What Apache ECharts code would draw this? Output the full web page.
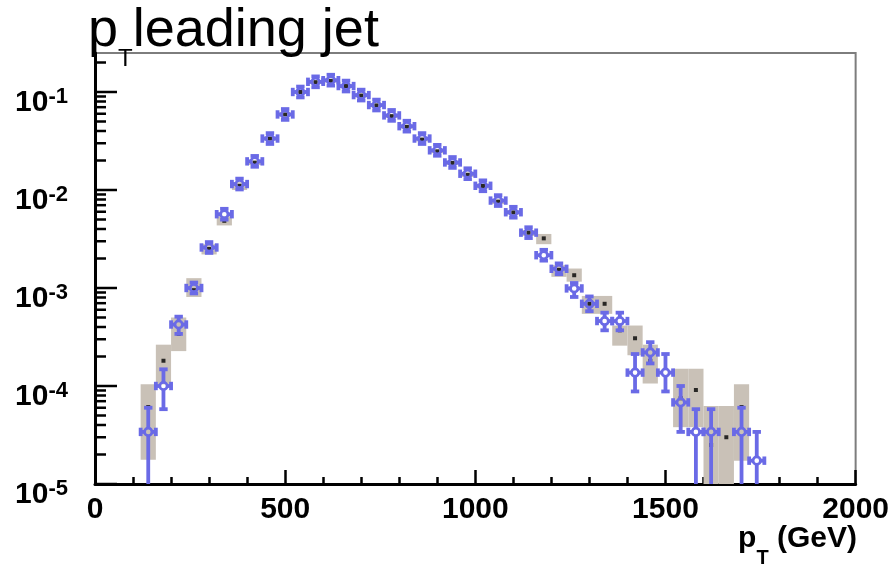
<!DOCTYPE html>
<html><head><meta charset="utf-8">
<script src="https://cdn.jsdelivr.net/npm/echarts@6/dist/echarts.min.js"></script>
<style>html,body{margin:0;padding:0;background:#fff}#c{width:892px;height:566px}</style>
</head><body><div id="c"></div>
<script>
// ---- data ----
const binCenters = [140,180,220,260,300,340,380,420,460,500,540,580,620,660,700,740,780,820,860,900,940,980,1020,1060,1100,1140,1180,1220,1260,1300,1340,1380,1420,1460,1500,1540,1580,1620,1660,1700,1740];
const binHalfWidth = 20;
// black points with grey systematic boxes
const blackValues = [6.1e-5,1.81e-4,3.4e-4,9.5e-4,2.5e-3,4.85e-3,1.1e-2,1.9e-2,3.35e-2,5.9e-2,0.1,0.126,0.13,0.115,0.092,0.073,0.0567,0.0442,0.0327,0.0248,0.0189,0.0143,0.011,0.0076,0.0059,0.00367,0.00321,0.00153,0.00135,6.9e-4,6.9e-4,3.7e-4,3.07e-4,1.8e-4,null,7.5e-5,9.1e-5,2.5e-5,3.0e-5,6.1e-5,null];
const sysLow = [1.77e-5,1.04e-4,2.27e-4,8.1e-4,2.2e-3,4.35e-3,1.0e-2,1.8e-2,3.2e-2,5.65e-2,0.096,0.121,0.125,0.11,0.088,0.07,0.0543,0.0423,0.0313,0.0237,0.018,0.0136,0.0104,0.0072,0.0056,0.0034,0.0028,0.0013,0.00116,5.45e-4,5.45e-4,2.58e-4,2.06e-4,1.06e-4,null,3.8e-5,3.8e-5,1e-7,1e-7,1.73e-5,null];
const sysHigh = [1.04e-4,2.64e-4,5.0e-4,1.26e-3,2.8e-3,5.4e-3,1.2e-2,2.0e-2,3.5e-2,6.15e-2,0.104,0.131,0.135,0.12,0.096,0.076,0.0591,0.0461,0.0341,0.0259,0.0198,0.015,0.0116,0.008,0.0062,0.0039,0.00356,0.00171,0.00158,8.3e-4,8.3e-4,4.14e-4,4.14e-4,2.64e-4,null,1.5e-4,1.5e-4,6.26e-5,6.26e-5,1.04e-4,null];
// blue open-circle points with statistical error bars
const blueValues = [3.4e-5,1.0e-4,4.24e-4,1.0e-3,2.59e-3,5.66e-3,1.15e-2,1.96e-2,3.35e-2,5.9e-2,0.1,0.127,0.132,0.115,0.093,0.0736,0.0577,0.0448,0.0335,0.0254,0.0191,0.01466,0.01104,0.0078,0.00593,0.00367,0.00216,0.00157,9.9e-4,6.9e-4,4.6e-4,4.6e-4,1.37e-4,2.2e-4,1.37e-4,6.8e-5,3.4e-5,3.4e-5,null,3.4e-5,1.73e-5];
const blueErrLow = [1e-7,5.8e-5,3.4e-4,9.0e-4,2.45e-3,5.4e-3,1.11e-2,1.9e-2,3.27e-2,5.8e-2,0.099,0.125,0.13,0.113,0.091,0.072,0.0565,0.0438,0.0326,0.0246,0.0184,0.014,0.0105,0.0074,0.0056,0.0034,0.00205,0.00149,8.1e-4,5.8e-4,3.7e-4,3.7e-4,8.8e-5,1.7e-4,8.8e-5,3.4e-5,1e-7,1e-7,null,1e-7,1e-7];
const blueErrHigh = [6.0e-5,1.48e-4,5.1e-4,1.1e-3,2.73e-3,5.9e-3,1.19e-2,2.02e-2,3.43e-2,6.0e-2,0.101,0.129,0.134,0.117,0.095,0.0752,0.0589,0.0458,0.0344,0.0262,0.0198,0.0153,0.0116,0.0082,0.0063,0.0039,0.00227,0.00165,1.1e-3,8.2e-4,5.6e-4,5.6e-4,2.12e-4,2.8e-4,2.12e-4,1.0e-4,5.8e-5,5.8e-5,null,6.0e-5,3.4e-5];
// axis tick values
const xTickLabels = ['0','500','1000','1500','2000'];
const yMajorTicks = [1e-5,1e-4,1e-3,1e-2,1e-1];
const yMinorTicks = [2e-5,3e-5,4e-5,5e-5,6e-5,7e-5,8e-5,9e-5,2e-4,3e-4,4e-4,5e-4,6e-4,7e-4,8e-4,9e-4,2e-3,3e-3,4e-3,5e-3,6e-3,7e-3,8e-3,9e-3,2e-2,3e-2,4e-2,5e-2,6e-2,7e-2,8e-2,9e-2,2e-1];

// ---- chart ----
const BLUE = '#6a6ae6';
const GREY = '#c9c1b7';
const FONT = 'Liberation Sans';

const boxData = [], blackData = [], blueData = [];
binCenters.forEach((x, i) => {
  if (sysLow[i] != null) boxData.push([x, sysLow[i], sysHigh[i]]);
  if (blackValues[i] != null) blackData.push([x, blackValues[i]]);
  if (blueValues[i] != null) blueData.push([x, blueValues[i], blueErrLow[i], blueErrHigh[i]]);
});

function tickSeries(vals, len) {
  return {
    type: 'custom', silent: true, z: 5, clip: false,
    data: vals.map(v => [0, v]),
    renderItem(params, api) {
      const p = api.coord([0, api.value(1)]);
      return { type: 'line', shape: { x1: p[0], y1: p[1], x2: p[0] + len, y2: p[1] },
               style: { stroke: '#000', lineWidth: 2.5 } };
    }
  };
}

const chart = echarts.init(document.getElementById('c'), null, { renderer: 'canvas' });
chart.setOption({
  animation: false,
  backgroundColor: '#fff',
  title: [
    { text: '{m|p}{s|T}{m|leading jet}', left: 88, top: 4, padding: 0, z: 10,
      textStyle: { fontWeight: 'normal', rich: {
        m: { fontSize: 54, fontWeight: 'normal', fontFamily: FONT, color: '#000', lineHeight: 67, verticalAlign: 'top' },
        s: { fontSize: 24, fontWeight: 'normal', fontFamily: FONT, color: '#000', lineHeight: 26, verticalAlign: 'bottom' } } } },
    { text: '{m|p}{s|T}{m| (GeV)}', right: 35, top: 524, padding: 0,
      textStyle: { rich: {
        m: { fontSize: 30, fontWeight: 'bold', fontFamily: FONT, color: '#000', lineHeight: 44, verticalAlign: 'top' },
        s: { fontSize: 20, fontWeight: 'bold', fontFamily: FONT, color: '#000', lineHeight: 20, verticalAlign: 'bottom' } } } }
  ],
  grid: { left: 95, right: 33, top: 53, bottom: 82, show: true, borderColor: '#7d7d7d', borderWidth: 2, backgroundColor: 'transparent' },
  xAxis: {
    type: 'value', min: 0, max: 2000, interval: 500,
    axisLine: { show: true, lineStyle: { color: '#000', width: 3 } },
    axisTick: { show: true, inside: true, length: 14, lineStyle: { color: '#000', width: 2.5 } },
    minorTick: { show: true, splitNumber: 5, length: 7, lineStyle: { color: '#000', width: 2.5 } },
    splitLine: { show: false },
    axisLabel: { margin: 11, fontSize: 30, fontWeight: 'bold', fontFamily: FONT, color: '#000',
      formatter: v => { const i = [0,500,1000,1500,2000].indexOf(v); return i >= 0 ? xTickLabels[i] : ''; } }
  },
  yAxis: {
    type: 'log', logBase: 10, min: 1e-5, max: 0.25,
    axisLine: { show: true, lineStyle: { color: '#000', width: 3 } },
    axisTick: { show: false },
    splitLine: { show: false },
    axisLabel: {
      margin: 27, padding: [20, 0, 0, 0],
      formatter: v => {
        const e = Math.log10(v), r = Math.round(e);
        if (Math.abs(e - r) > 1e-6) return '';
        return '{b|10}{s|' + (r < 0 ? '-' + (-r) : r) + '}';
      },
      rich: {
        b: { fontSize: 30, fontWeight: 'bold', fontFamily: FONT, color: '#000', lineHeight: 32, verticalAlign: 'bottom' },
        s: { fontSize: 22, fontWeight: 'bold', fontFamily: FONT, color: '#000', lineHeight: 18, verticalAlign: 'top' }
      }
    }
  },
  series: [
    { type: 'custom', name: 'syst', clip: true, silent: true, z: 1,
      data: boxData,
      renderItem(params, api) {
        const x = api.value(0);
        const p1 = api.coord([x - binHalfWidth, api.value(2)]);
        const p2 = api.coord([x + binHalfWidth, api.value(1)]);
        return { type: 'rect', shape: { x: p1[0], y: p1[1], width: p2[0] - p1[0], height: p2[1] - p1[1] },
                 style: { fill: GREY } };
      } },
    { type: 'scatter', name: 'black', z: 2, silent: true, symbol: 'rect', symbolSize: 4,
      itemStyle: { color: '#000' }, data: blackData },
    { type: 'custom', name: 'blue', clip: true, silent: true, z: 3,
      data: blueData,
      renderItem(params, api) {
        const x = api.value(0), v = api.value(1);
        const c = api.coord([x, v]);
        const xl = api.coord([x - binHalfWidth, v])[0], xr = api.coord([x + binHalfWidth, v])[0];
        const r = 3.7, gap = 5.4, cap = 4.2;
        let yt = Math.min(api.coord([x, api.value(3)])[1], c[1] - gap);
        let yb = Math.max(api.coord([x, api.value(2)])[1], c[1] + gap);
        const st = { stroke: BLUE, lineWidth: 3.8 };
        const L = (x1, y1, x2, y2) => ({ type: 'line', shape: { x1, y1, x2, y2 }, style: st });
        return { type: 'group', children: [
          L(xl, c[1], c[0] - r, c[1]), L(c[0] + r, c[1], xr, c[1]),
          L(xl, c[1] - cap, xl, c[1] + cap), L(xr, c[1] - cap, xr, c[1] + cap),
          L(c[0], yt, c[0], c[1] - r), L(c[0], c[1] + r, c[0], yb),
          L(c[0] - cap, yt, c[0] + cap, yt), L(c[0] - cap, yb, c[0] + cap, yb),
          { type: 'circle', shape: { cx: c[0], cy: c[1], r: r }, style: { fill: 'none', stroke: BLUE, lineWidth: 2.8 } }
        ] };
      } },
    tickSeries(yMajorTicks, 22),
    tickSeries(yMinorTicks, 11)
  ]
});
</script></body></html>
